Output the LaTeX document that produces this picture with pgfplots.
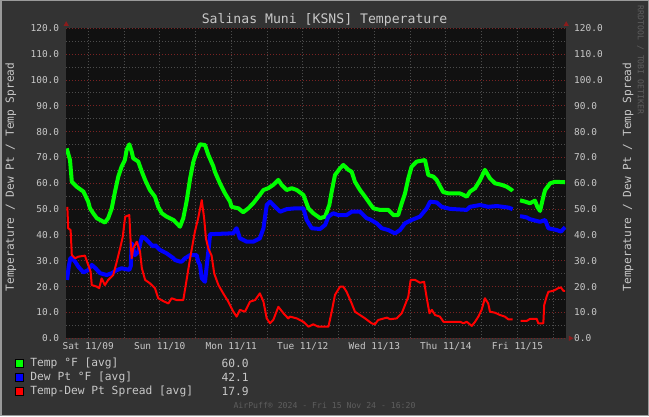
\documentclass[border=0pt]{standalone}
\usepackage{pgfplots}
\pgfplotsset{compat=1.18}
\usepackage{fontspec}
\setmainfont{DejaVu Sans Mono}
\definecolor{bgc}{HTML}{333333}
\definecolor{plotbg}{HTML}{111111}
\definecolor{txt}{HTML}{C8C8C8}
\definecolor{mgrid}{HTML}{7A2222}
\definecolor{mingrid}{HTML}{4C4C4C}
\definecolor{axc}{HTML}{8B1C1C}
\definecolor{foot}{HTML}{5E5E5E}
\definecolor{frame}{HTML}{9A9A9A}
\definecolor{tgreen}{HTML}{00FF00}
\definecolor{tblue}{HTML}{0000FF}
\definecolor{tred}{HTML}{FF0000}
\pgfplotsset{ylabfmt/.style={/pgf/number format/fixed, /pgf/number format/fixed zerofill, /pgf/number format/precision=1, /pgf/number format/assume math mode=true}}
\begin{document}
\begin{tikzpicture}[x=1bp,y=1bp]
\fill[bgc] (0,0) rectangle (649,416);
\draw[line width=1.5bp, frame] (0.75,0.75) rectangle (648.25,415.25);
\begin{axis}[
  at={(66.2bp,77.7bp)}, anchor=south west,
  scale only axis, width=500bp, height=310bp,
  xmin=-7.38, xmax=160.38, ymin=0, ymax=120,
  axis background/.style={fill=plotbg},
  axis line style={draw=none},
  xtick={0,24,...,144},
  xticklabels={Sat 11/09,Sun 11/10,Mon 11/11,Tue 11/12,Wed 11/13,Thu 11/14,Fri 11/15},
  minor xtick={12,36,...,156},
  ytick={0,10,...,120},
  minor ytick={5,15,...,115},
  grid=both,
  major grid style={mgrid, dash pattern=on 1bp off 2bp, line width=0.8bp},
  minor grid style={mingrid, dash pattern=on 1bp off 2bp, line width=0.8bp},
  major x grid style={mingrid, dash pattern=on 1bp off 2bp, line width=0.8bp},
  tick style={draw=none},
  every tick label/.append style={font=\fontsize{9.5}{11}\selectfont, text=txt},
  yticklabel style={ylabfmt, anchor=east, inner sep=0pt, xshift=-6.9bp},
  xticklabel style={anchor=north, inner sep=0pt, yshift=-4bp},
  unbounded coords=jump,
  line join=round,
]
\addplot[tgreen, line width=4bp] coordinates {
(-7.2,73.5) (-6.1,69.0) (-5.5,60.6) (-3.9,58.7) (-1.6,56.8) (0.0,52.9) (0.6,50.3) (1.7,48.4) (2.9,46.5) (4.0,45.8) (5.6,44.8) (6.7,46.5) (7.9,50.3) (9.0,56.8) (10.1,62.6) (11.2,66.4) (12.3,69.0) (12.9,72.9) (13.8,75.1) (14.6,72.2) (15.1,69.7) (16.8,68.4) (18.0,64.5) (19.1,61.3) (20.7,57.4) (22.4,54.8) (23.5,50.9) (24.7,48.4) (26.3,47.1) (28.6,45.8) (30.8,43.2) (31.9,46.5) (33.0,52.9) (34.2,61.9) (35.3,68.4) (36.4,72.2) (37.5,75.1) (39.2,74.8) (40.3,71.0) (42.0,66.5) (42.5,64.5) (44.2,60.0) (45.9,56.1) (47.6,52.9) (48.1,50.9) (50.4,50.3) (52.0,48.8) (53.7,50.3) (55.4,52.3) (57.1,54.8) (58.8,57.4) (60.4,58.1) (62.1,59.4) (63.8,61.3) (64.9,59.4) (66.6,57.4) (68.3,58.1) (70.0,57.4) (72.2,55.5) (73.9,50.3) (75.5,48.4) (77.8,46.5) (79.5,47.1) (80.9,51.6) (81.7,56.8) (82.8,63.2) (84.5,65.8) (85.6,67.1) (87.3,65.2) (88.4,64.5) (89.5,60.6) (91.2,57.4) (92.9,54.8) (94.6,52.0) (95.7,50.3) (97.9,49.7) (100.7,49.7) (102.4,47.7) (104.0,47.7) (105.2,52.3) (106.3,56.1) (107.4,61.9) (108.5,66.4) (110.2,68.4) (113.0,69.0) (114.1,63.2) (115.8,62.6) (116.9,61.3) (117.5,60.0) (119.1,56.6) (120.8,56.1) (124.7,56.1) (125.9,55.5) (127.0,54.8) (128.1,56.8) (129.8,58.1) (131.5,61.3) (133.1,65.2) (134.8,61.9) (136.5,60.0) (138.7,59.4) (140.4,58.7) (142.1,57.4) (142.4,57.0) (143.5,nan) (144.9,53.4) (146.6,52.9) (148.2,52.3) (149.9,53.3) (150.7,50.9) (151.6,49.3) (152.7,54.8) (153.3,57.4) (155.0,60.0) (156.6,60.6) (160.0,60.4)
};
\addplot[tblue, line width=4bp] coordinates {
(-7.1,22.6) (-6.5,28.0) (-6.0,31.0) (-5.5,31.2) (-4.4,29.7) (-3.3,27.7) (-1.6,25.5) (0.0,26.4) (1.2,28.4) (2.3,27.3) (4.0,25.2) (6.2,24.5) (7.9,25.2) (9.6,26.4) (11.2,27.1) (13.8,26.5) (14.3,28.0) (14.6,36.8) (15.7,32.2) (16.8,33.5) (18.0,39.3) (19.1,38.7) (20.2,37.4) (21.8,35.5) (22.4,36.1) (24.1,34.2) (26.3,32.9) (28.6,31.0) (29.1,30.3) (30.8,29.7) (31.4,29.7) (32.5,31.0) (34.2,32.2) (36.4,32.2) (36.9,29.7) (37.5,28.4) (38.1,23.2) (38.6,22.6) (39.2,21.9) (39.8,28.4) (40.3,33.5) (40.9,40.3) (47.6,40.6) (48.7,40.6) (49.3,41.9) (49.8,42.6) (50.9,38.7) (53.2,37.4) (55.4,37.4) (57.6,38.7) (58.8,42.6) (59.9,51.6) (61.0,52.9) (62.7,50.9) (64.4,49.0) (66.6,50.0) (69.4,50.3) (72.2,50.3) (73.3,45.8) (75.0,42.6) (77.8,42.3) (79.5,43.9) (80.6,47.1) (82.2,48.4) (83.9,47.7) (86.7,47.7) (88.4,49.0) (91.2,49.0) (93.4,46.5) (94.6,46.0) (96.8,44.5) (98.5,42.6) (100.7,41.9) (102.9,40.6) (104.6,41.9) (106.3,44.5) (108.5,45.8) (111.3,47.1) (113.6,50.3) (114.7,52.9) (116.9,52.6) (118.6,50.9) (121.4,50.1) (127.0,49.7) (128.1,50.9) (131.5,51.6) (134.2,50.9) (137.1,51.2) (141.0,50.6) (142.4,50.0) (143.5,nan) (144.9,47.3) (147.1,46.8) (148.2,46.1) (151.6,45.1) (153.3,45.8) (154.4,42.6) (157.2,41.9) (158.6,41.3) (160.0,43.0)
};
\addplot[tred, line width=2bp] coordinates {
(-7.0,50.9) (-6.7,42.6) (-5.9,41.9) (-5.5,32.2) (-4.4,31.0) (-3.3,31.6) (-1.1,32.0) (0.0,28.4) (0.8,25.8) (1.2,20.6) (2.9,20.0) (3.7,19.4) (4.5,23.2) (5.6,20.6) (6.7,22.6) (8.4,24.5) (9.6,29.7) (10.7,34.8) (11.6,39.3) (12.4,47.1) (13.8,47.7) (14.3,36.1) (14.6,31.0) (15.1,34.8) (16.3,37.4) (17.4,33.5) (18.0,27.1) (19.1,22.6) (20.7,21.3) (22.4,19.4) (23.5,15.5) (25.2,14.4) (26.9,13.5) (28.0,15.5) (29.7,14.8) (31.9,14.8) (33.1,23.2) (34.2,31.0) (35.8,41.3) (36.9,46.5) (38.1,53.5) (38.9,46.5) (39.5,38.7) (40.3,34.8) (41.4,32.0) (42.3,25.0) (43.7,20.6) (45.3,17.4) (47.0,14.2) (48.7,10.3) (49.8,8.4) (50.9,11.0) (52.6,10.3) (54.3,14.2) (56.0,14.8) (57.6,17.4) (58.8,14.2) (59.9,7.7) (61.0,5.8) (62.1,7.1) (63.8,12.2) (65.5,9.7) (67.1,7.7) (67.7,8.4) (70.0,7.7) (72.2,6.4) (73.9,4.5) (75.5,5.4) (77.2,4.5) (80.6,4.5) (81.7,10.3) (82.8,16.8) (84.5,20.0) (85.6,20.0) (86.7,18.0) (88.4,13.5) (89.5,10.3) (91.2,9.0) (92.9,7.7) (95.1,5.8) (96.2,5.4) (97.3,7.1) (100.2,8.0) (101.3,7.4) (103.5,7.7) (105.2,9.7) (106.3,12.9) (107.4,16.1) (108.2,22.6) (109.7,22.6) (111.3,21.5) (112.7,21.9) (113.6,15.5) (114.5,9.7) (115.3,11.0) (116.4,9.0) (118.0,8.4) (119.2,6.4) (124.8,6.4) (125.9,5.8) (127.0,6.4) (128.7,4.8) (129.8,6.4) (130.9,8.4) (132.0,11.0) (133.1,15.5) (134.2,13.5) (134.8,10.3) (136.5,9.9) (138.2,9.0) (139.8,8.4) (141.0,7.3) (142.4,7.3) (143.5,nan) (145.1,6.7) (147.1,6.7) (148.2,7.5) (150.5,7.5) (151.0,5.8) (152.7,5.8) (153.0,12.9) (153.8,16.1) (154.4,18.0) (156.1,18.4) (157.7,19.4) (158.6,19.7) (159.4,18.4) (160.0,18.4)
};
\end{axis}
\begin{axis}[
  at={(66.2bp,77.7bp)}, anchor=south west,
  scale only axis, width=500bp, height=310bp,
  xmin=-7.38, xmax=160.38, ymin=0, ymax=120,
  hide x axis, axis y line*=right,
  axis line style={draw=none}, tick style={draw=none},
  ytick={0,10,...,120},
  every tick label/.append style={font=\fontsize{9.5}{11}\selectfont, text=txt},
  yticklabel style={ylabfmt, anchor=west, inner sep=0pt, xshift=7.8bp},
]
\end{axis}
% axis arrows
\fill[axc] (66.2,394.8) -- (63.6,390.2) -- (68.8,390.2) -- cycle;
\fill[axc] (566.2,394.8) -- (563.6,390.2) -- (568.8,390.2) -- cycle;
\fill[axc] (573.5,77.7) -- (568.9,80.3) -- (568.9,75.1) -- cycle;
% titles
\node[text=txt, font=\fontsize{13.2}{15}\selectfont] at (324.5,396) {Salinas Muni [KSNS] Temperature};
\node[text=txt, font=\fontsize{11.2}{13}\selectfont, rotate=90] at (10.8,239) {Temperature / Dew Pt / Temp Spread};
\node[text=txt, font=\fontsize{11.2}{13}\selectfont, rotate=90] at (628,239) {Temperature / Dew Pt / Temp Spread};
\node[text=foot, font=\fontsize{8.2}{10}\selectfont, rotate=-90] at (640.5,356) {RRDTOOL / TOBI OETIKER};
% legend
\fill[tgreen, draw=black, line width=0.8bp] (15.3,48.7) rectangle (23.6,56.7);
\fill[tblue, draw=black, line width=0.8bp] (15.3,34.7) rectangle (23.6,42.7);
\fill[tred, draw=black, line width=0.8bp] (15.3,20.7) rectangle (23.6,28.7);
\node[text=txt, anchor=west, inner sep=0pt, font=\fontsize{11.3}{13}\selectfont] at (30.2,52.7) {Temp °F [avg]};
\node[text=txt, anchor=west, inner sep=0pt, font=\fontsize{11.3}{13}\selectfont] at (30.2,38.7) {Dew Pt °F [avg]};
\node[text=txt, anchor=west, inner sep=0pt, font=\fontsize{11.3}{13}\selectfont] at (30.2,24.7) {Temp-Dew Pt Spread [avg]};
\node[text=txt, anchor=west, inner sep=0pt, font=\fontsize{11.3}{13}\selectfont] at (221.4,52.7) {60.0};
\node[text=txt, anchor=west, inner sep=0pt, font=\fontsize{11.3}{13}\selectfont] at (221.4,38.7) {42.1};
\node[text=txt, anchor=west, inner sep=0pt, font=\fontsize{11.3}{13}\selectfont] at (221.4,24.7) {17.9};
\node[text=foot, font=\fontsize{8.2}{10}\selectfont] at (324.5,10.7) {AirPuff® 2024 - Fri 15 Nov 24 - 16:20};
\pgfresetboundingbox
\useasboundingbox (0,0) rectangle (649,416);
\end{tikzpicture}
\end{document}
